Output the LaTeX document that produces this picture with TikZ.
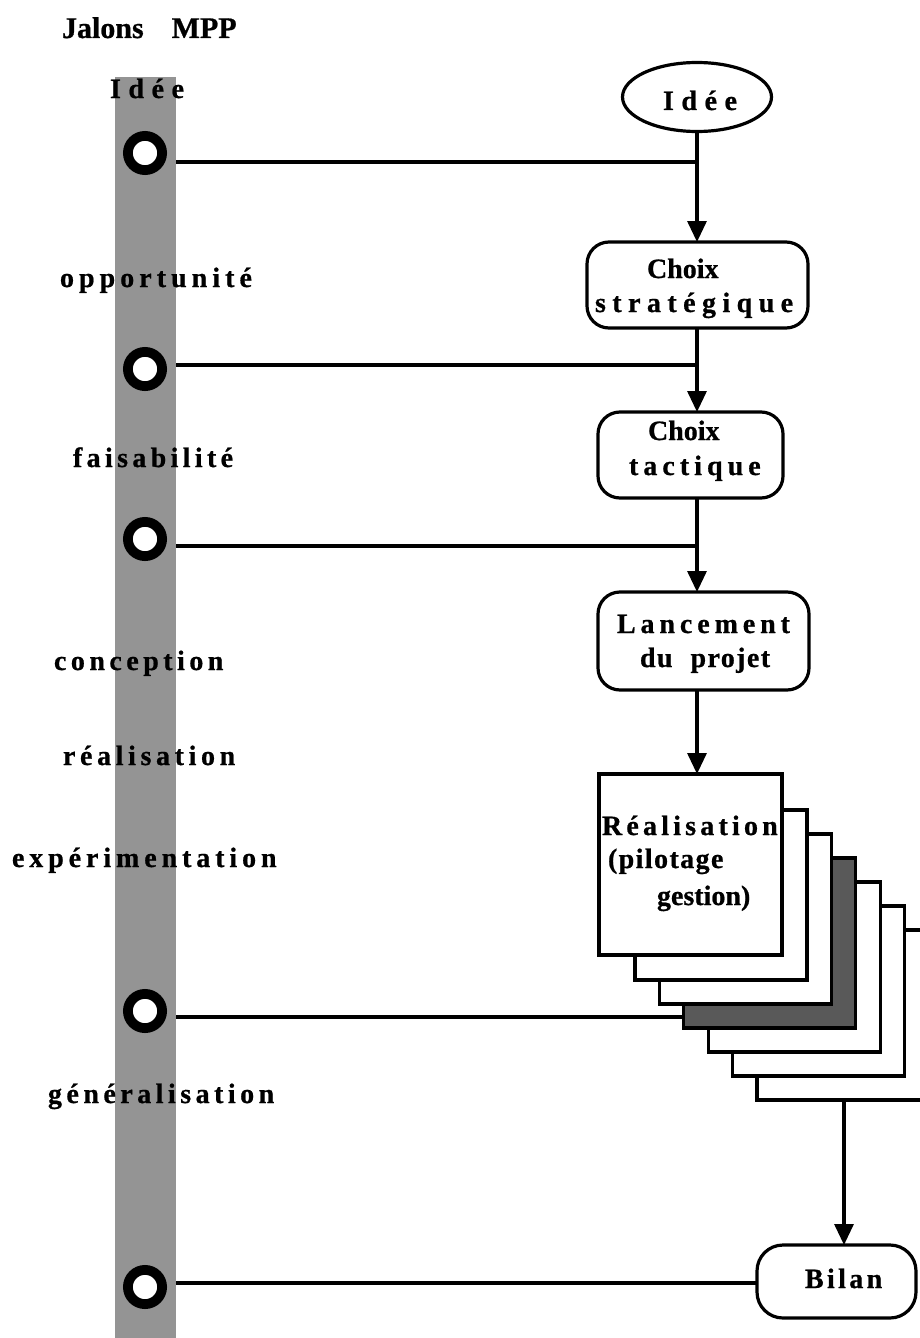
\documentclass[tikz,border=0pt]{standalone}
\usepackage{fontspec}
\setmainfont{Liberation Serif}[BoldFeatures={FakeBold=0.7}]
\usetikzlibrary{shapes.geometric,arrows.meta}
\newcommand{\lsp}[1]{\addfontfeatures{LetterSpace=#1}}
\begin{document}
\begin{tikzpicture}[x=0.5pt,y=-0.5pt,
  every node/.style={inner sep=0pt,outer sep=0pt},
  conn/.style={line width=1.6pt},
  arr/.style={line width=1.6pt,-{Triangle[length=10.5pt,width=9.5pt]}},
  lbl/.style={anchor=base west,font=\fontsize{14}{16}\selectfont\bfseries},
  rbox/.style={draw,line width=1.6pt,rounded corners=11pt,fill=white},
  sheet/.style={draw,line width=1.6pt,fill=white,anchor=north west,minimum width=86pt,minimum height=85pt},
  ring/.style={circle,draw=black,fill=white,line width=4.9pt,minimum size=17.1pt},
  milestonebar/.style={fill=black!42,anchor=north west,minimum width=30.5pt,minimum height=631pt}
]
\clip (0,0) rectangle (920,1338);
\fill[white] (0,0) rectangle (920,1338);

% milestone column
\node[milestonebar] (bar) at (115,77) {};
\node[lbl,font=\fontsize{15}{17}\selectfont\bfseries] (title) at (62,38) {Jalons\hspace{14pt}MPP};

% milestone labels
\node[lbl] (l0) at (110,98) {\lsp{27}Idée};
\node[lbl] (l1) at (60,287) {\lsp{18}opportunité};
\node[lbl] (l2) at (73,467) {\lsp{15.5}faisabilité};
\node[lbl] (l3) at (54,670) {\lsp{16}conception};
\node[lbl] (l4) at (63,765) {\lsp{16.5}réalisation};
\node[lbl] (l5) at (12,867) {\lsp{17.5}expérimentation};
\node[lbl] (l6) at (48,1103) {\lsp{16}généralisation};

% milestone rings
\node[ring] (c1) at (145,153) {};
\node[ring] (c2) at (145,369) {};
\node[ring] (c3) at (145,539) {};
\node[ring] (c4) at (145,1011) {};
\node[ring] (c5) at (145,1287) {};

% process column
\coordinate (axis) at (697,0);
\coordinate (bx) at (844,0);
\node[ellipse,draw,line width=1.6pt,fill=white,minimum width=74.5pt,minimum height=34.5pt] (idee) at (697,97) {};
\node[rbox,minimum width=110.5pt,minimum height=43pt] (cs) at (697.5,285) {};
\node[rbox,minimum width=92.5pt,minimum height=43pt] (ct) at (690.5,455) {};
\node[rbox,minimum width=105.5pt,minimum height=49pt] (lp) at (703.5,641) {};
\node[rbox,rounded corners=13pt,minimum width=79.5pt,minimum height=36.5pt] (bilan) at (836.5,1281.5) {};

% stack of execution sheets, back to front
\foreach \k in {7,6,5}{
  \node[sheet] (r\k) at ({635+24.4*(\k-2)},{810+24*(\k-2)}) {};
}
\node[sheet,fill=black!65] (r4) at ({635+24.4*2},{810+24*2}) {};
\foreach \k in {3,2}{
  \node[sheet] (r\k) at ({635+24.4*(\k-2)},{810+24*(\k-2)}) {};
}
\node[draw,line width=1.6pt,fill=white,minimum width=91.5pt,minimum height=90.5pt] (r1) at (690.5,864.5) {};

% box texts
\node[lbl] (ti) at (663,110) {\lsp{27}Idée};
\node[lbl] (ts1) at (647,278) {Choix};
\node[lbl] (ts2) at (595,312) {\lsp{23}stratégique};
\node[lbl] (tt1) at (648,440) {Choix};
\node[lbl] (tt2) at (629,475) {\lsp{18}tactique};
\node[lbl] (tl1) at (617,633) {\lsp{17.5}Lancement};
\node[lbl] (tl2) at (640,667) {\lsp{5}du\hspace{9pt}projet};
\node[lbl] (tr1) at (602,835) {\lsp{15}Réalisation};
\node[lbl] (tr2) at (608,868) {\lsp{5}(pilotage};
\node[lbl] (tr3) at (657,905) {gestion)};
\node[lbl] (tb) at (805,1288) {\lsp{12}Bilan};

% flow arrows
\draw[arr] (axis |- idee.south) -- (axis |- cs.north);
\draw[arr] (axis |- cs.south) -- (axis |- ct.north);
\draw[arr] (axis |- ct.south) -- (axis |- lp.north);
\draw[arr] (axis |- lp.south) -- (axis |- r1.north);
\draw[arr] (bx |- r7.south) -- (bx |- bilan.north);

% milestone links
\coordinate (h1) at (697,162);
\coordinate (h2) at (697,365);
\coordinate (h3) at (697,546);
\coordinate (h4) at (0,1017);
\coordinate (h5) at (0,1283);
\draw[conn] (bar.east |- h1) -- (h1);
\draw[conn] (bar.east |- h2) -- (h2);
\draw[conn] (bar.east |- h3) -- (h3);
\draw[conn] (bar.east |- h4) -- (r4.west |- h4);
\draw[conn] (bar.east |- h5) -- (bilan.west |- h5);
\end{tikzpicture}
\end{document}
